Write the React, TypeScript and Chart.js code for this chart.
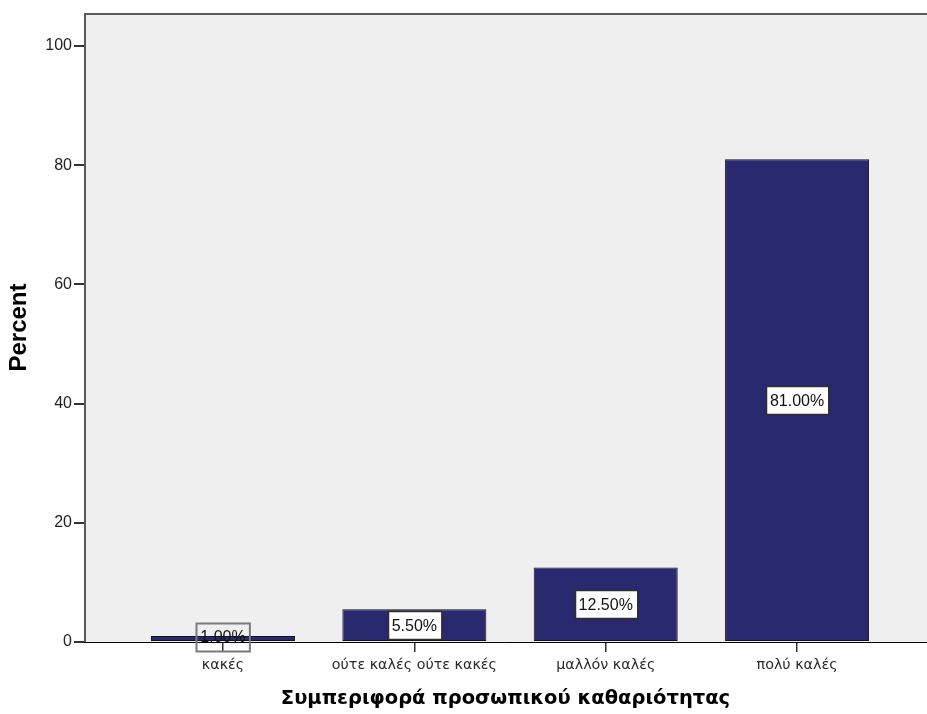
import React, { useEffect, useRef } from 'react';
import { Chart, registerables } from 'chart.js';

Chart.register(...registerables);

// Responses and their share of all answers
const categories = ['κακές', 'ούτε καλές ούτε κακές', 'μαλλόν καλές', 'πολύ καλές'];
const percents = [1.0, 5.5, 12.5, 81.0];
const valueLabels = ['1.00%', '5.50%', '12.50%', '81.00%'];
const yTickValues = [0, 20, 40, 60, 80, 100];

const xAxisTitle = 'Συμπεριφορά προσωπικού καθαριότητας';
const yAxisTitle = 'Percent';

const FONT = "'Liberation Sans', Arial, Helvetica, sans-serif";
const LABEL_FONT = "'DejaVu Sans', Verdana, Tahoma, sans-serif";

// Grey plot background plus the top and left frame lines
const plotFrame = {
  id: 'plotFrame',
  beforeDraw(chart: any) {
    const { ctx, chartArea: a } = chart;
    ctx.save();
    ctx.fillStyle = '#EFEFEF';
    ctx.fillRect(a.left, a.top, a.right - a.left, a.bottom - a.top);
    ctx.restore();
  },
  afterDraw(chart: any) {
    const { ctx, chartArea: a } = chart;
    ctx.save();
    ctx.strokeStyle = '#5A5A5A';
    ctx.lineWidth = 2;
    ctx.beginPath();
    ctx.moveTo(a.left, a.top + 1);
    ctx.lineTo(a.right, a.top + 1);
    ctx.moveTo(a.left + 1, a.top);
    ctx.lineTo(a.left + 1, a.bottom);
    ctx.stroke();
    ctx.restore();
  },
};

// Boxed percentage labels placed at the middle of each bar
const barValueLabels = {
  id: 'barValueLabels',
  afterDatasetsDraw(chart: any) {
    const { ctx } = chart;
    const meta = chart.getDatasetMeta(0);
    ctx.save();
    ctx.font = `16px ${FONT}`;
    ctx.textAlign = 'center';
    ctx.textBaseline = 'middle';
    meta.data.forEach((bar: any, i: number) => {
      const text = valueLabels[i];
      const cx = bar.x;
      const barHeight = Math.abs(bar.base - bar.y);
      const h = 28;
      const isShort = barHeight < h;
      const cy = (bar.y + bar.base) / 2 - (isShort ? 2 : 0);
      const w = ctx.measureText(text).width + 8;
      const x0 = Math.round(cx - w / 2) + 0.5;
      const y0 = Math.round(cy - h / 2) + 0.5;
      if (!isShort) {
        ctx.fillStyle = '#FFFFFF';
        ctx.fillRect(x0, y0, w, h);
        ctx.strokeStyle = '#2E2E2E';
        ctx.lineWidth = 1.5;
      } else {
        // outline only, so the short bar stays visible behind
        ctx.strokeStyle = '#7A7A7A';
        ctx.lineWidth = 2;
      }
      ctx.strokeRect(x0, y0, w, h);
      ctx.fillStyle = '#111111';
      ctx.fillText(text, cx, cy + 1);
    });
    ctx.restore();
  },
};

export default function App() {
  const canvasRef = useRef<HTMLCanvasElement | null>(null);

  useEffect(() => {
    const canvas = canvasRef.current;
    if (!canvas) return;

    const chart = new Chart(canvas, {
      type: 'bar',
      data: {
        datasets: [
          {
            data: percents.map((v, i) => ({ x: i, y: v })),
            backgroundColor: '#29296F',
            borderColor: '#141414',
            borderWidth: 1,
            borderSkipped: false,
            categoryPercentage: 1,
            barPercentage: 0.7526,
          },
        ],
      },
      options: {
        responsive: false,
        animation: false,
        events: [],
        layout: { padding: { top: 13, right: 0, bottom: 0, left: 0 } },
        plugins: {
          legend: { display: false },
          tooltip: { enabled: false },
        },
        scales: {
          x: {
            type: 'linear',
            offset: false,
            min: -0.7265,
            max: 3.679,
            border: { display: true, color: '#000000', width: 1 },
            grid: {
              display: true,
              offset: false,
              drawOnChartArea: false,
              drawTicks: true,
              tickLength: 10,
              color: '#333333',
              lineWidth: 1.5,
            },
            ticks: {
              stepSize: 1,
              includeBounds: false,
              autoSkip: false,
              maxRotation: 0,
              minRotation: 0,
              padding: 5,
              color: '#2A2A2A',
              font: { family: LABEL_FONT, size: 14.3 },
              callback: (v: any) => categories[v as number] ?? '',
            },
            title: {
              display: true,
              text: xAxisTitle,
              color: '#000000',
              font: { family: LABEL_FONT, size: 19.5, weight: 'bold' },
              padding: { top: 0, bottom: 3 },
            },
            afterFit: (scale: any) => {
              scale.height = 72;
            },
          },
          y: {
            min: 0,
            max: 105.54,
            border: { display: false },
            grid: {
              display: true,
              drawOnChartArea: false,
              drawTicks: true,
              tickLength: 10,
              color: '#333333',
              lineWidth: 2,
            },
            afterBuildTicks: (scale: any) => {
              scale.ticks = yTickValues.map((value) => ({ value }));
            },
            ticks: {
              padding: 2,
              color: '#222222',
              font: { family: FONT, size: 16 },
            },
            title: {
              display: true,
              text: yAxisTitle,
              color: '#000000',
              font: { family: FONT, size: 24, weight: 'bold' },
              padding: { top: 5, bottom: 0 },
            },
            afterFit: (scale: any) => {
              scale.width = 84;
            },
          },
        },
      },
      plugins: [plotFrame, barValueLabels],
    });

    return () => chart.destroy();
  }, []);

  return (
    <div style={{ position: 'absolute', left: 0, top: 0, width: 927, height: 714, background: '#FFFFFF' }}>
      <canvas ref={canvasRef} width={927} height={714} style={{ display: 'block' }} />
    </div>
  );
}
